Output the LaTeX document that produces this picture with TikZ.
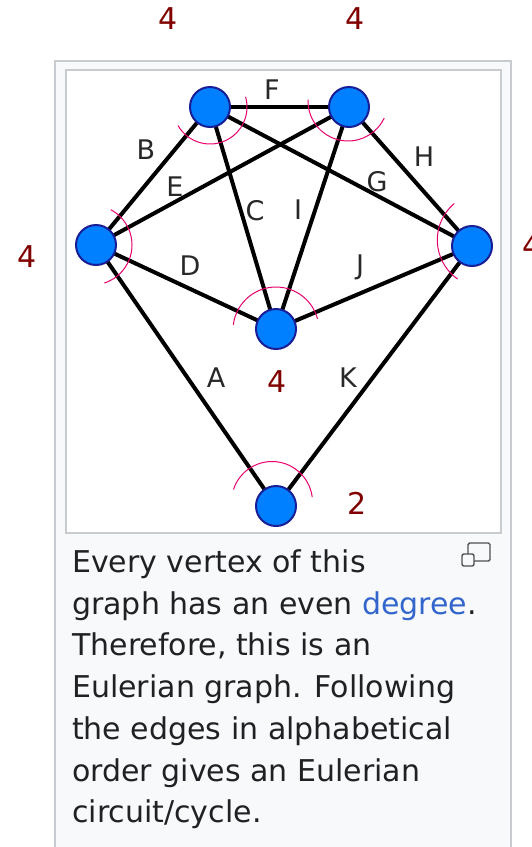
\documentclass[tikz,border=0pt]{standalone}
\usepackage{fontspec}
\setmainfont{DejaVu Sans}
\pgfdeclarelayer{back}
\pgfdeclarelayer{edges}
\pgfsetlayers{back,edges,main}
\definecolor{vblue}{RGB}{0,128,255}
\definecolor{vborder}{RGB}{25,30,150}
\definecolor{labgray}{RGB}{40,40,40}
\definecolor{degred}{RGB}{128,0,0}
\definecolor{pinkmark}{RGB}{232,0,110}
\definecolor{capbg}{RGB}{248,249,250}
\definecolor{framegray}{RGB}{200,204,209}
\definecolor{captext}{RGB}{32,33,34}
\definecolor{linkblue}{RGB}{51,102,204}
\definecolor{icongray}{RGB}{80,80,80}
\begin{document}
\begin{tikzpicture}[x=1pt,y=-1pt,
  vertex/.style={circle, minimum size=40pt, inner sep=0pt, fill=vblue, draw=vborder, line width=2pt},
  link/.style={line width=4pt, black},
  elabel/.style={font=\fontsize{27}{27}\selectfont, text=labgray, inner sep=0pt},
  deg/.style={font=\fontsize{30}{30}\selectfont, text=degred, inner sep=0pt},
  capline/.style={font=\fontsize{30}{30}\selectfont, text=captext, anchor=base west, inner sep=0pt},
  arcmark/.style={draw=pinkmark, line width=1pt},
  iconline/.style={draw=icongray, line width=1.4pt}]
\clip (0,0) rectangle (532,847);
\useasboundingbox (0,0) rectangle (532,847);

\begin{pgfonlayer}{back}
  \filldraw[fill=capbg, draw=framegray, line width=1.3pt] (55,61) rectangle (511,870);
  \filldraw[fill=white, draw=framegray, line width=1.3pt] (66,70) rectangle (501,533);
\end{pgfonlayer}

% vertices
\node[vertex] (TL) at (210,107) {};
\node[vertex] (TR) at (349,107) {};
\node[vertex] (L)  at (96,245) {};
\node[vertex] (R)  at (472,246) {};
\node[vertex] (M)  at (276,329) {};
\node[vertex] (Bo) at (276,506) {};

% edges
\begin{pgfonlayer}{edges}
  \draw[link] (L.center) -- (Bo.center);   % A
  \draw[link] (L.center) -- (TL.center);   % B
  \draw[link] (TL.center) -- (M.center);   % C
  \draw[link] (L.center) -- (M.center);    % D
  \draw[link] (L.center) -- (TR.center);   % E
  \draw[link] (TL.center) -- (TR.center);  % F
  \draw[link] (TL.center) -- (R.center);   % G
  \draw[link] (TR.center) -- (R.center);   % H
  \draw[link] (TR.center) -- (M.center);   % I
  \draw[link] (M.center) -- (R.center);    % J
  \draw[link] (Bo.center) -- (R.center);   % K
\end{pgfonlayer}

% edge labels
\node[elabel] (lA) at (216,378) {A};
\node[elabel] (lB) at (146,150) {B};
\node[elabel] (lC) at (255,211) {C};
\node[elabel] (lD) at (190,266) {D};
\node[elabel] (lE) at (175,187) {E};
\node[elabel] (lF) at (272,90) {F};
\node[elabel] (lG) at (377,182) {G};
\node[elabel] (lH) at (424,157) {H};
\node[elabel] (lI) at (298,210) {I};
\node[elabel] (lJ) at (360,267) {J};
\node[elabel] (lK) at (348,378) {K};

% degree numbers
\node[deg] (dTL) at (168,19) {4};
\node[deg] (dTR) at (355,19) {4};
\node[deg] (dL)  at (27,257) {4};
\node[deg] (dR)  at (532,246) {4};
\node[deg] (dM)  at (277,382) {4};
\node[deg] (dBo) at (357,503) {2};

% pink angle marks
\draw[arcmark] ([shift={(150:37)}]210,107) arc[start angle=150, end angle=-16, radius=37];
\draw[arcmark] ([shift={(182:40)}]348,101) arc[start angle=182, end angle=25, radius=40];
\draw[arcmark] ([shift={(-62:40)}]92,245) arc[start angle=-62, end angle=72, radius=40];
\draw[arcmark] ([shift={(230:47.7)}]485,240) arc[start angle=230, end angle=125, radius=47.7];
\draw[arcmark] ([shift={(187:43)}]276,330) arc[start angle=187, end angle=345, radius=43];
\draw[arcmark] ([shift={(198:40.5)}]272,502) arc[start angle=198, end angle=353, radius=40.5];

% caption
\node[capline] (c1) at (72,572.5) {Every vertex of this};
\node[capline] (c2) at (72,614.2) {graph has an even \textcolor{linkblue}{degree}.};
\node[capline] (c3) at (72,655.9) {Therefore, this is an};
\node[capline] (c4) at (72,697.6) {Eulerian graph. Following};
\node[capline] (c5) at (72,739.3) {the edges in alphabetical};
\node[capline] (c6) at (72,781) {order gives an Eulerian};
\node[capline] (c7) at (72,822.7) {circuit/cycle.};

% enlarge icon
\draw[iconline, rounded corners=1.5pt] (468,554) -- (468,543) -- (490,543) -- (490,561) -- (474,561);
\draw[iconline, rounded corners=2pt] (462,554) rectangle (474,566);
\end{tikzpicture}
\end{document}
